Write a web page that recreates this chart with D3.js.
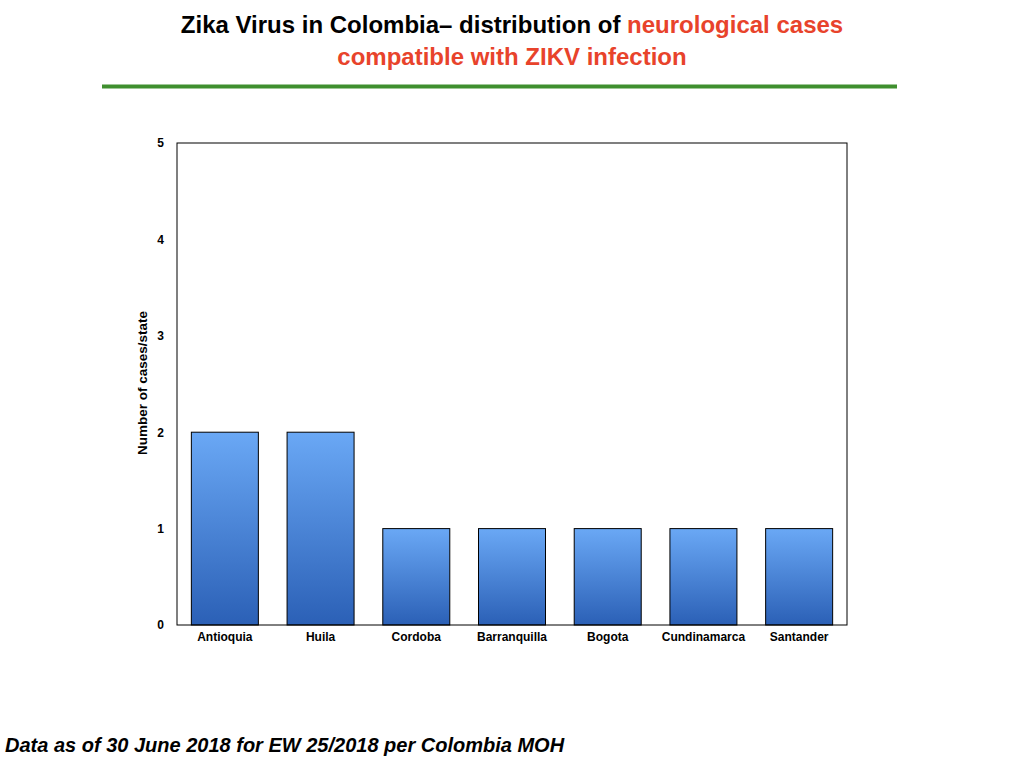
<!DOCTYPE html>
<html>
<head>
<meta charset="utf-8">
<script src="https://cdn.jsdelivr.net/npm/d3@7"></script>
<style>
  body { margin: 0; background: #fff; }
  svg text { font-family: "Liberation Sans", Arial, Helvetica, sans-serif; }
</style>
</head>
<body>
<div id="chart"></div>
<script>
// data
var states = ["Antioquia", "Huila", "Cordoba", "Barranquilla", "Bogota", "Cundinamarca", "Santander"];
var cases = [2, 2, 1, 1, 1, 1, 1];
var yTicks = [0, 1, 2, 3, 4, 5];

var width = 1024, height = 768;
var margin = {top: 143, right: 177, bottom: 143, left: 177};
var plotW = width - margin.left - margin.right,
    plotH = 625 - margin.top;

var svg = d3.select("#chart").append("svg")
    .attr("width", width)
    .attr("height", height);

// gradient for bars
var grad = svg.append("defs").append("linearGradient")
    .attr("id", "barGrad")
    .attr("x1", 0).attr("y1", 0).attr("x2", 0).attr("y2", 1);
grad.append("stop").attr("offset", "0%").attr("stop-color", "#6aa8f5");
grad.append("stop").attr("offset", "100%").attr("stop-color", "#2b60b6");

// title
var title = svg.append("text")
    .attr("text-anchor", "middle")
    .style("font-weight", "bold")
    .style("font-size", "24px");
title.append("tspan")
    .attr("x", 512).attr("y", 33)
    .attr("fill", "#000")
    .text("Zika Virus in Colombia\u2013  distribution of ");
title.append("tspan")
    .attr("fill", "#e8432b")
    .text("neurological cases");
svg.append("text")
    .attr("x", 512).attr("y", 65)
    .attr("text-anchor", "middle")
    .style("font-weight", "bold")
    .style("font-size", "24px")
    .attr("fill", "#e8432b")
    .text("compatible with ZIKV infection");

svg.append("line")
    .attr("x1", 102).attr("x2", 897)
    .attr("y1", 86.5).attr("y2", 86.5)
    .attr("stroke", "#3f8f2e")
    .attr("stroke-width", 4);

var g = svg.append("g")
    .attr("transform", "translate(" + margin.left + "," + margin.top + ")");

var x = d3.scaleBand()
    .domain(states)
    .range([0, plotW])
    .paddingInner(0.3)
    .paddingOuter(0.15);
var y = d3.scaleLinear()
    .domain([0, 5])
    .range([plotH, 0]);

g.selectAll(".bar")
    .data(states)
    .enter().append("rect")
    .attr("class", "bar")
    .attr("x", function(d) { return x(d); })
    .attr("y", function(d, i) { return y(cases[i]); })
    .attr("width", x.bandwidth())
    .attr("height", function(d, i) { return plotH - y(cases[i]); })
    .attr("fill", "url(#barGrad)")
    .attr("stroke", "#000")
    .attr("stroke-width", 1);

// frame
g.append("rect")
    .attr("x", 0).attr("y", 0)
    .attr("width", plotW).attr("height", plotH)
    .attr("fill", "none")
    .attr("stroke", "#000")
    .attr("stroke-width", 1);

var yAxis = g.append("g")
    .call(d3.axisLeft(y).tickValues(yTicks).tickSize(0).tickPadding(13).tickFormat(d3.format("d")));
yAxis.select(".domain").remove();
yAxis.selectAll("text")
    .style("font-size", "12px")
    .style("font-weight", "bold")
    .attr("fill", "#000");

var xAxis = g.append("g")
    .attr("transform", "translate(0," + plotH + ")")
    .call(d3.axisBottom(x).tickSize(0).tickPadding(7));
xAxis.select(".domain").remove();
xAxis.selectAll("text")
    .style("font-size", "12px")
    .style("font-weight", "bold")
    .attr("fill", "#000");

svg.append("text")
    .attr("transform", "translate(147," + (margin.top + plotH / 2 - 1) + ") rotate(-90)")
    .attr("text-anchor", "middle")
    .style("font-size", "13.5px")
    .style("font-weight", "bold")
    .text("Number of cases/state");

svg.append("text")
    .attr("x", 5).attr("y", 752)
    .style("font-size", "20px")
    .style("font-weight", "bold")
    .style("font-style", "italic")
    .text("Data as of 30 June 2018 for EW 25/2018 per Colombia MOH");
</script>
</body>
</html>
